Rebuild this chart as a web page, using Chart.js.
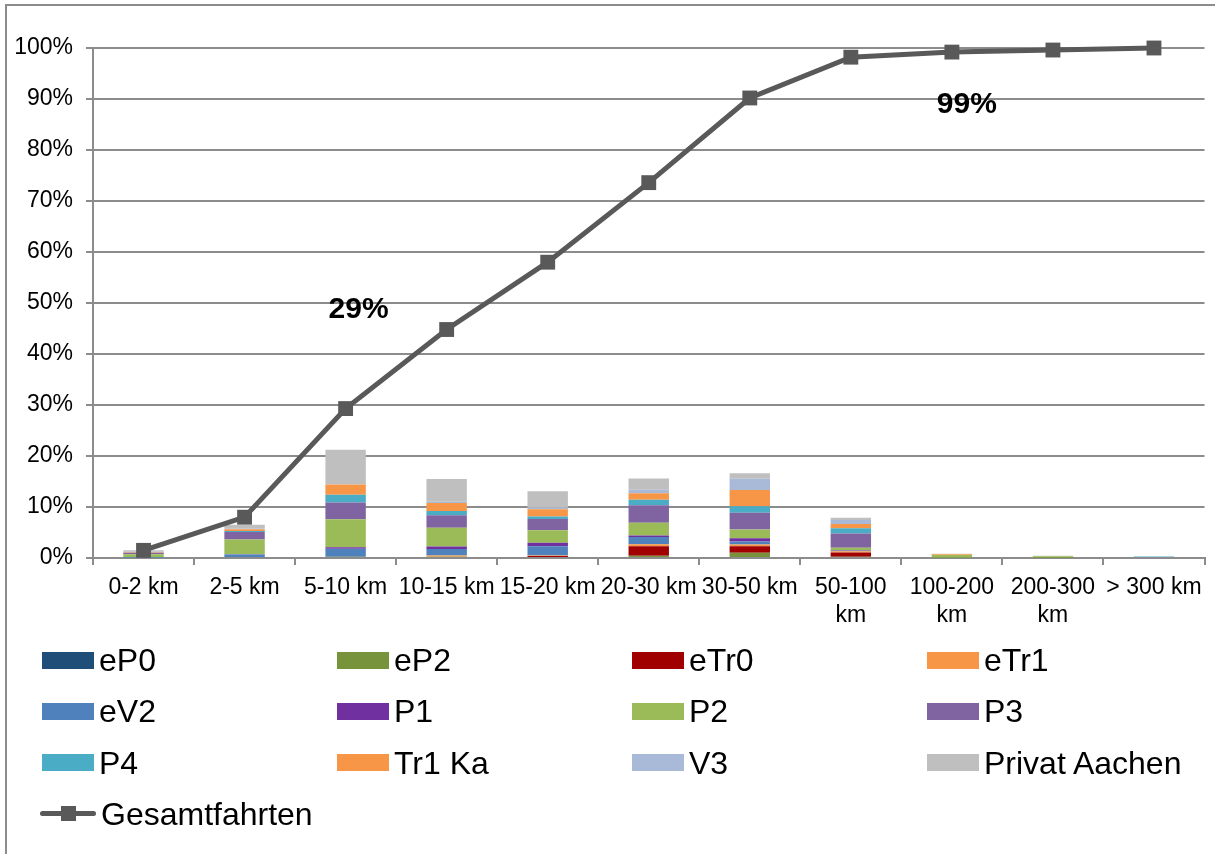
<!DOCTYPE html>
<html>
<head>
<meta charset="utf-8">
<script src="https://cdn.jsdelivr.net/npm/chart.js@4.4.1/dist/chart.umd.min.js"></script>
<style>
  html, body { margin: 0; padding: 0; background: #fff; overflow: hidden; }
  #wrap { position: relative; width: 1215px; height: 854px; font-family: "Liberation Sans", Arial, sans-serif; }
  #frame { position: absolute; left: 5px; top: 4px; width: 1400px; height: 1000px; border: 2px solid #8c8c8c; box-sizing: border-box; }
  #chartBox { position: absolute; left: 0; top: 0; width: 1215px; height: 638px; }
  #legend { position: absolute; left: 0; top: 0; width: 1215px; height: 854px; pointer-events: none; }
  .lg-item { position: absolute; height: 36px; display: flex; align-items: center; white-space: nowrap; }
  .lg-box { width: 52px; height: 17px; flex: none; }
  .lg-line { position: relative; width: 56px; height: 17px; flex: none; }
  .lg-line::before { content: ""; position: absolute; left: 0; right: 0; top: 6px; height: 5px; border-radius: 3px; background: #595959; }
  .lg-line::after { content: ""; position: absolute; left: 21px; top: 1px; width: 15px; height: 15px; background: #595959; }
  .lg-text { font-size: 32px; color: #000; margin-left: 5px; line-height: 36px; }
</style>
</head>
<body>
<div id="wrap">
  <div id="frame"></div>
  <div id="chartBox"><canvas id="chart"></canvas></div>
  <div id="legend"></div>
</div>
<script>
// Distance classes (x axis)
const categories = ['0-2 km', '2-5 km', '5-10 km', '10-15 km', '15-20 km', '20-30 km', '30-50 km',
  ['50-100', 'km'], ['100-200', 'km'], ['200-300', 'km'], '> 300 km'];

// Share of trips per vehicle group and distance class, in percent
const eP0          = [0,    0,    0.25, 0,    0,    0,    0,    0,    0,    0,    0];
const eP2          = [0,    0,    0.05, 0.25, 0,    0.45, 1.05, 0.25, 0.1,  0.05, 0];
const eTr0         = [0,    0,    0,    0,    0.4,  1.85, 1.25, 0.85, 0,    0,    0];
const eTr1         = [0,    0,    0,    0.25, 0.1,  0.4,  0.33, 0.2,  0,    0,    0];
const eV2          = [0.05, 0.7,  1.5,  1.25, 1.8,  1.4,  0.6,  0.1,  0,    0,    0];
const P1           = [0,    0.05, 0.3,  0.5,  0.7,  0.33, 0.66, 0.1,  0,    0,    0];
const P2           = [0.7,  2.9,  5.5,  3.7,  2.45, 2.5,  1.7,  0.5,  0.5,  0.3,  0];
const P3           = [0.3,  1.45, 3.3,  2.45, 2.2,  3.4,  3.3,  2.8,  0,    0,    0];
const P4           = [0,    0.2,  1.5,  0.8,  0.5,  1.1,  1.25, 1.05, 0,    0,    0.3];
const Tr1Ka        = [0.1,  0.35, 2.0,  1.6,  1.4,  1.25, 3.2,  0.8,  0.15, 0,    0];
const V3           = [0.1,  0.1,  0.05, 0.25, 0.3,  0.7,  2.2,  0.8,  0,    0,    0];
const PrivatAachen = [0.25, 0.75, 6.8,  4.45, 3.25, 2.22, 1.1,  0.45, 0.1,  0.1,  0];

// Cumulative share of all trips, in percent
const gesamtfahrten = [1.5, 8.0, 29.3, 44.8, 58.0, 73.6, 90.2, 98.2, 99.2, 99.6, 100];

// Y axis range and tick step, in percent
const yMin = 0;
const yMax = 100;
const yStep = 10;

const barSeries = [
  { label: 'eP0',           data: eP0,          color: '#1F4E79' },
  { label: 'eP2',           data: eP2,          color: '#77933C' },
  { label: 'eTr0',          data: eTr0,         color: '#A00000' },
  { label: 'eTr1',          data: eTr1,         color: '#F79646' },
  { label: 'eV2',           data: eV2,          color: '#4F81BD' },
  { label: 'P1',            data: P1,           color: '#7030A0' },
  { label: 'P2',            data: P2,           color: '#9BBB59' },
  { label: 'P3',            data: P3,           color: '#8064A2' },
  { label: 'P4',            data: P4,           color: '#4BACC6' },
  { label: 'Tr1 Ka',        data: Tr1Ka,        color: '#F79646' },
  { label: 'V3',            data: V3,           color: '#A9B9D8' },
  { label: 'Privat Aachen', data: PrivatAachen, color: '#BFBFBF' }
];

const axisGray = '#8c8c8c';
const lineGray = '#595959';
const fontFamily = '"Liberation Sans", Arial, sans-serif';

const datasets = barSeries.map(s => ({
  type: 'bar',
  label: s.label,
  data: s.data,
  backgroundColor: s.color,
  borderWidth: 0,
  stack: 'fahrten',
  order: 1,
  barPercentage: 0.4,
  categoryPercentage: 1.0
}));

datasets.push({
  type: 'line',
  label: 'Gesamtfahrten',
  data: gesamtfahrten,
  borderColor: lineGray,
  backgroundColor: lineGray,
  borderWidth: 5,
  tension: 0,
  clip: false,
  pointStyle: 'rect',
  pointRadius: 10.5,
  pointBorderWidth: 0,
  pointBackgroundColor: lineGray,
  order: 0
});

// Bold percentage callouts attached to points of the cumulative line
const valueCallouts = {
  id: 'valueCallouts',
  afterDatasetsDraw(chart, args, opts) {
    const dsIndex = chart.data.datasets.length - 1;
    const meta = chart.getDatasetMeta(dsIndex);
    const ctx = chart.ctx;
    ctx.save();
    ctx.font = 'bold 30px ' + fontFamily;
    ctx.fillStyle = '#000';
    ctx.textAlign = 'center';
    ctx.textBaseline = 'middle';
    opts.items.forEach(it => {
      const pt = meta.data[it.index];
      const v = chart.data.datasets[dsIndex].data[it.index];
      ctx.fillText(Math.round(v) + '%', pt.x + it.dx, pt.y + it.dy);
    });
    ctx.restore();
  }
};

const chart = new Chart(document.getElementById('chart'), {
  data: { labels: categories, datasets: datasets },
  plugins: [valueCallouts],
  options: {
    responsive: true,
    maintainAspectRatio: false,
    animation: false,
    layout: { padding: { left: 0, top: 48, right: 9, bottom: 0 } },
    plugins: {
      legend: { display: false },
      tooltip: { enabled: false },
      valueCallouts: {
        items: [
          { index: 2, dx: 13, dy: -99 },
          { index: 8, dx: 15, dy: 53 }
        ]
      }
    },
    scales: {
      x: {
        stacked: true,
        offset: true,
        grid: {
          offset: true,
          drawOnChartArea: false,
          drawTicks: true,
          tickLength: 7,
          color: axisGray,
          lineWidth: 2
        },
        border: { color: axisGray, width: 2 },
        ticks: {
          color: '#000',
          font: { family: fontFamily, size: 23, lineHeight: 1.2 },
          padding: 9,
          maxRotation: 0,
          autoSkip: false
        },
        afterFit(scale) {
          scale.height = 80;
          scale.paddingLeft = 0;
          scale.paddingRight = 0;
        }
      },
      y: {
        stacked: true,
        min: yMin,
        max: yMax,
        grid: {
          color: axisGray,
          lineWidth: 2,
          tickLength: 7
        },
        border: { color: axisGray, width: 2 },
        ticks: {
          stepSize: yStep,
          color: '#000',
          font: { family: fontFamily, size: 23 },
          padding: 13,
          callback: v => v + '%'
        },
        afterFit(scale) {
          scale.width = 93;
          scale.paddingTop = 0;
          scale.paddingBottom = 0;
        }
      }
    }
  }
});

// Legend in a four-column grid below the plot
(function buildLegend() {
  const host = document.getElementById('legend');
  const colX = 42, colStep = 295, rowY = 660, rowStep = 51.3, cols = 4;
  chart.data.datasets.forEach((ds, i) => {
    const col = i % cols, row = Math.floor(i / cols);
    const item = document.createElement('div');
    item.className = 'lg-item';
    item.style.left = (colX + col * colStep - (ds.type === 'line' ? 2 : 0)) + 'px';
    item.style.top = (rowY + row * rowStep - 18) + 'px';
    const mark = document.createElement('div');
    if (ds.type === 'line') {
      mark.className = 'lg-line';
    } else {
      mark.className = 'lg-box';
      mark.style.background = ds.backgroundColor;
    }
    const text = document.createElement('span');
    text.className = 'lg-text';
    text.textContent = ds.label;
    item.appendChild(mark);
    item.appendChild(text);
    host.appendChild(item);
  });
})();
</script>
</body>
</html>
